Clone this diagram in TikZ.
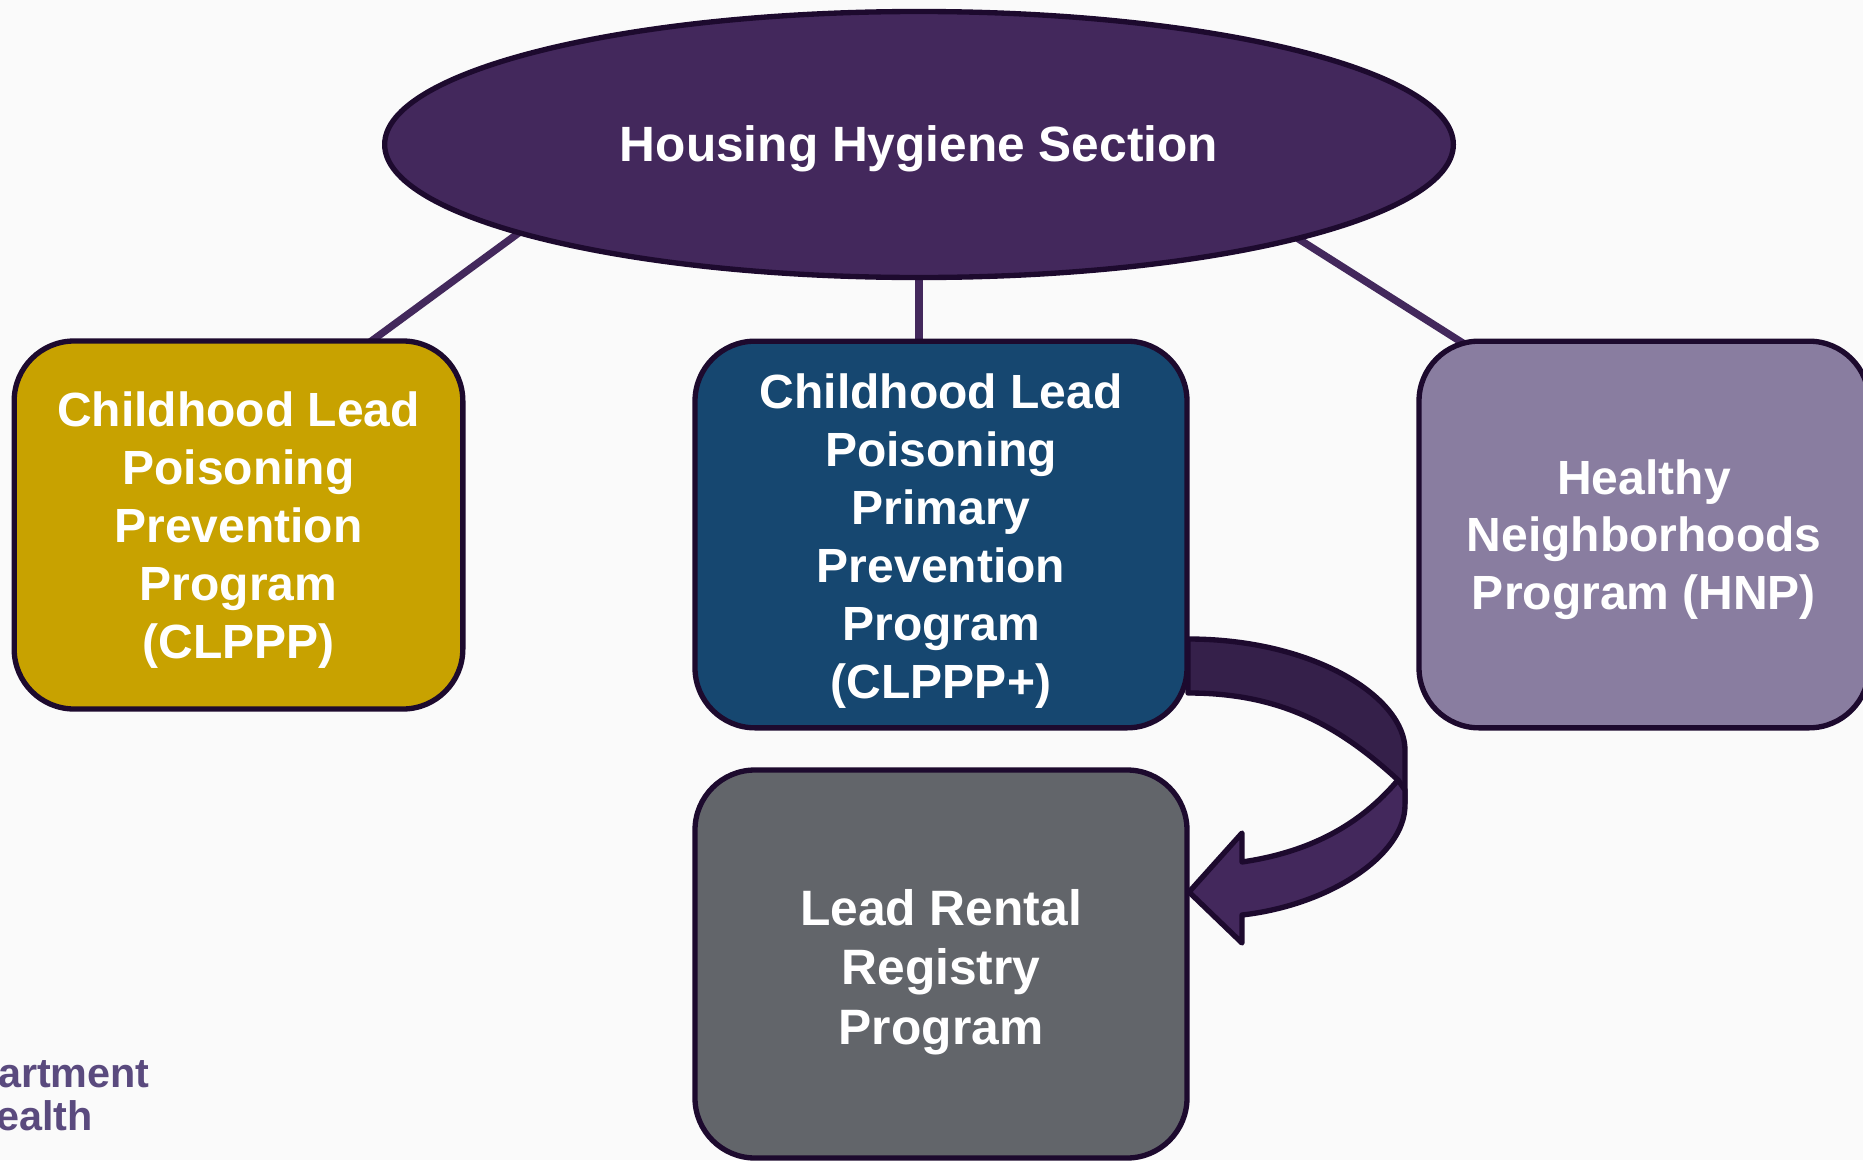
\documentclass[tikz,border=0pt]{standalone}
\usepackage{fontspec}
\setmainfont{Liberation Sans}
\usetikzlibrary{shapes.geometric}
\definecolor{bgc}{HTML}{FAFAFA}
\definecolor{edgec}{HTML}{1D0A2E}
\definecolor{plum}{HTML}{43285C}
\definecolor{plumdark}{HTML}{35204A}
\definecolor{goldc}{HTML}{C8A200}
\definecolor{bluec}{HTML}{164770}
\definecolor{mauvec}{HTML}{897DA0}
\definecolor{grayc}{HTML}{62656A}
\definecolor{logoc}{HTML}{5A4A7E}
\newcommand{\pushdown}[1]{\rule{0pt}{#1}}
\tikzset{
  x=0.75pt,y=-0.75pt,
  label text/.style={text=white,font=\fontsize{36}{43.5}\selectfont\bfseries,align=center,inner sep=0pt},
  prog box/.style={label text,draw=edgec,line width=4pt,rounded corners=45pt},
  link/.style={draw=plum,line width=5.5pt},
  arrow part/.style={draw=edgec,line width=4pt,line join=round},
  logo text/.style={text=logoc,font=\fontsize{31}{33}\selectfont\bfseries,inner sep=0pt,anchor=base east}
}
\begin{document}
\begin{tikzpicture}
\useasboundingbox (0,0) rectangle (1863,1160);
\clip (0,0) rectangle (1863,1160);
\fill[bgc] (0,0) rectangle (1863,1160);
\coordinate (eL) at (520,232);
\coordinate (eM) at (919,270);
\coordinate (eR) at (1297,238);
\coordinate (bL) at (366,345);
\coordinate (bM) at (919,345);
\coordinate (bR) at (1466,345);
\draw[link] (eL) -- (bL);
\draw[link] (eM) -- (bM);
\draw[link] (eR) -- (bR);
\node[ellipse,draw=edgec,line width=4pt,fill=plum,text=white,inner sep=0pt,minimum width=801.5pt,minimum height=199.5pt,font=\fontsize{37.2}{43.5}\selectfont\bfseries] (top) at (919,144.5) {\pushdown{33pt}Housing Hygiene Section};
\node[prog box,fill=goldc,minimum width=336.5pt,minimum height=276pt] (clppp) at (238.5,525) {\pushdown{33.5pt}Childhood Lead\\Poisoning\\Prevention\\Program\\(CLPPP)};
\node[prog box,fill=bluec,minimum width=369pt,minimum height=290pt] (plus) at (941,534.5) {\pushdown{36.5pt}Childhood Lead\\Poisoning\\Primary\\Prevention\\Program\\(CLPPP+)};
\node[prog box,fill=mauvec,minimum width=337.5pt,minimum height=290pt,font=\fontsize{36}{43}\selectfont\bfseries] (hnp) at (1644,534.5) {\pushdown{33.5pt}Healthy\\Neighborhoods\\Program (HNP)};
\node[prog box,fill=grayc,minimum width=369pt,minimum height=291pt,font=\fontsize{37.3}{44.6}\selectfont\bfseries] (rental) at (941,964) {\pushdown{39pt}Lead Rental\\Registry\\Program};
% curved arrow
\filldraw[arrow part,fill=plumdark] (1188,639) .. controls (1315,639) and (1405,698) .. (1405,750) -- (1405,803) -- (1398,780) .. controls (1338,725) and (1280,693) .. (1188,693) -- cycle;
\filldraw[arrow part,fill=plum] (1398,780) .. controls (1360,825) and (1310,852) .. (1242,862) -- (1242,833) -- (1189,892) -- (1242,943) -- (1242,915) .. controls (1330,905) and (1405,855) .. (1405,805) -- (1405,790) -- cycle;
\node[logo text] (logoA) at (150,1087) {artment};
\node[logo text] (logoB) at (93,1130) {ealth};
\end{tikzpicture}
\end{document}
